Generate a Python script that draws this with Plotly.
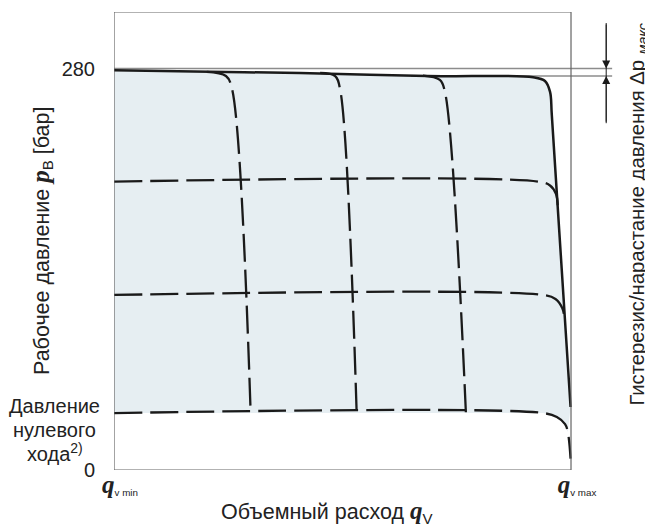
import plotly.graph_objects as go

# ---- tick labels ----
x_tickvals = [0, 100]
x_ticktext = [
    '<span style="font-family:Liberation Serif;font-size:25px"><b><i>q</i></b></span><sub>v min</sub>',
    '<span style="font-family:Liberation Serif;font-size:25px"><b><i>q</i></b></span><sub>v max</sub>',
]
y_tickvals = [0, 280]
y_ticktext = ["0", "280"]

# ---- main characteristic (solid) : flow [% of qv max] vs pressure [bar] ----
main_x = [0, 21.0, 40.7, 68.5, 91.7, 94.3, 95.4, 95.8, 99.9]
main_p = [279.3, 278.2, 277.4, 275.2, 274.4, 271.8, 264.4, 248.0, 44.0]

# ---- flow-limited curves (dashed, vertical) ----
flow1_x = [20.3, 24.5, 25.8, 29.9]
flow1_p = [278.2, 275.3, 266.7, 39.8]
flow2_x = [45.1, 48.4, 49.5, 53.1]
flow2_p = [277.4, 275.2, 265.5, 39.8]
flow3_x = [67.6, 71.3, 72.4, 77.0]
flow3_p = [275.5, 272.5, 264.4, 39.8]

# ---- pressure-limited curves (dashed, horizontal) ----
p200_x = [0, 92.8, 95.4, 96.7, 97.1]
p200_p = [201.5, 201.5, 198.8, 193.0, 185.0]
p120_x = [0, 93.9, 96.6, 98.1, 98.6]
p120_p = [122.3, 122.3, 119.5, 113.0, 105.0]
p40_x = [0, 93.9, 96.9, 98.7, 99.3, 99.9]
p40_p = [39.8, 39.8, 37.0, 32.1, 26.6, 8.0]

# ---- hysteresis markers ----
hyst_top = 280.5
hyst_bot = 275.3
hyst_top_x = [0, 109]
hyst_bot_x = [65, 109]
arrow_x = 107.7
arrow_top_tail = 312.3
arrow_bot_tail = 242.3

# ---- zero-stroke pressure label lines ----
zero_label_lines = ["Давление", "нулевого", "хода<sup>2)</sup>"]
zero_label_p = [44.7, 28.0, 11.9]

FONT = "Liberation Sans"
TXT = "#222222"
BLACK = "#1a1a1a"
DASH = "28px,8px"
LW = 2.3
FS = 20
FS_TITLE = 21.5

fig = go.Figure()

# shaded operating area
fill_x = [0] + main_x + p40_x[:-1][::-1]
fill_p = [p40_p[0]] + main_p + p40_p[:-1][::-1]
fig.add_trace(go.Scatter(x=fill_x, y=fill_p, mode="lines", fill="toself",
                         fillcolor="#e6eef2", line=dict(width=0),
                         hoverinfo="skip", showlegend=False))

# grey hysteresis lines
fig.add_trace(go.Scatter(x=hyst_top_x, y=[hyst_top, hyst_top], mode="lines",
                         line=dict(color="#8c8c8c", width=1.6), showlegend=False))
fig.add_trace(go.Scatter(x=hyst_bot_x, y=[hyst_bot, hyst_bot], mode="lines",
                         line=dict(color="#8c8c8c", width=1.6), showlegend=False))
# vertical line for the arrows
fig.add_trace(go.Scatter(x=[arrow_x, arrow_x], y=[arrow_top_tail, arrow_bot_tail], mode="lines",
                         line=dict(color=BLACK, width=1), showlegend=False))

# dashed curves
for xs, ps in [(p200_x, p200_p), (p120_x, p120_p), (p40_x, p40_p),
               (flow1_x, flow1_p), (flow2_x, flow2_p), (flow3_x, flow3_p)]:
    fig.add_trace(go.Scatter(x=xs, y=ps, mode="lines",
                             line=dict(color=BLACK, width=LW, dash=DASH, shape="spline", smoothing=1),
                             showlegend=False))

# main solid curve
fig.add_trace(go.Scatter(x=main_x, y=main_p, mode="lines",
                         line=dict(color=BLACK, width=2.5, shape="spline", smoothing=1),
                         showlegend=False))

# plot frame
fig.add_shape(type="rect", x0=0, x1=100, y0=0, y1=320, xref="x", yref="y",
              line=dict(color="#666666", width=1.2), layer="above")

annotations = [
    # arrows
    dict(x=arrow_x, y=hyst_top, ax=arrow_x, ay=arrow_top_tail, xref="x", yref="y",
         axref="x", ayref="y", showarrow=True, arrowhead=2, arrowsize=1.6,
         arrowwidth=1, arrowcolor=BLACK, text=""),
    dict(x=arrow_x, y=hyst_bot, ax=arrow_x, ay=arrow_bot_tail, xref="x", yref="y",
         axref="x", ayref="y", showarrow=True, arrowhead=2, arrowsize=1.6,
         arrowwidth=1, arrowcolor=BLACK, text=""),
    # x title
    dict(x=46.6, y=0, xref="x", yref="paper", yanchor="middle", yshift=-42, showarrow=False,
         text='Объемный расход <span style="font-family:Liberation Serif;font-size:25px"><b><i>q</i></b></span><sub>V</sub>',
         font=dict(family=FONT, size=FS_TITLE, color=TXT)),
    # y title
    dict(x=-0.1336, y=0.5, xref="paper", yref="paper", textangle=-90, showarrow=False,
         xanchor="center", yanchor="middle",
         text='Рабочее давление <span style="font-family:Liberation Serif;font-size:25px"><b><i>p</i></b></span><sub>B</sub> [бар]',
         font=dict(family=FONT, size=FS_TITLE, color=TXT)),
    # right title
    dict(x=114.7, y=180.0, xref="x", yref="y", textangle=-90, showarrow=False,
         xanchor="center", yanchor="middle",
         text='Гистерезис/нарастание давления Δp <sub><i>макс.</i></sub>',
         font=dict(family=FONT, size=20.3, color=TXT)),
]
# zero stroke pressure label
for line_txt, line_p in zip(zero_label_lines, zero_label_p):
    annotations.append(dict(x=-0.11, y=line_p, xref="paper", yref="y", showarrow=False,
                            xanchor="center", yanchor="middle", text=line_txt,
                            font=dict(family=FONT, size=FS, color=TXT)))

# The page body has an 8px default margin, so the figure is sized/placed to compensate.
fig.update_layout(
    width=645, height=518,
    margin=dict(l=106, r=0, t=4, b=56, autoexpand=False),
    paper_bgcolor="white", plot_bgcolor="white",
    font=dict(family=FONT, size=FS, color=TXT),
    annotations=annotations,
    xaxis=dict(range=[0, 117.94], showgrid=False, zeroline=False, showline=False,
               automargin=False,
               tickvals=x_tickvals, ticktext=x_ticktext, ticks="outside", ticklen=5,
               ticklabelshift=6,
               tickcolor="rgba(0,0,0,0)", tickfont=dict(family=FONT, size=14, color=TXT)),
    yaxis=dict(range=[0, 320], showgrid=False, zeroline=False, showline=False,
               automargin=False,
               tickvals=y_tickvals, ticktext=y_ticktext, ticks="outside", ticklen=14,
               tickcolor="rgba(0,0,0,0)", tickfont=dict(family=FONT, size=FS, color=TXT)),
    showlegend=False,
)

fig.write_html("out.html")
